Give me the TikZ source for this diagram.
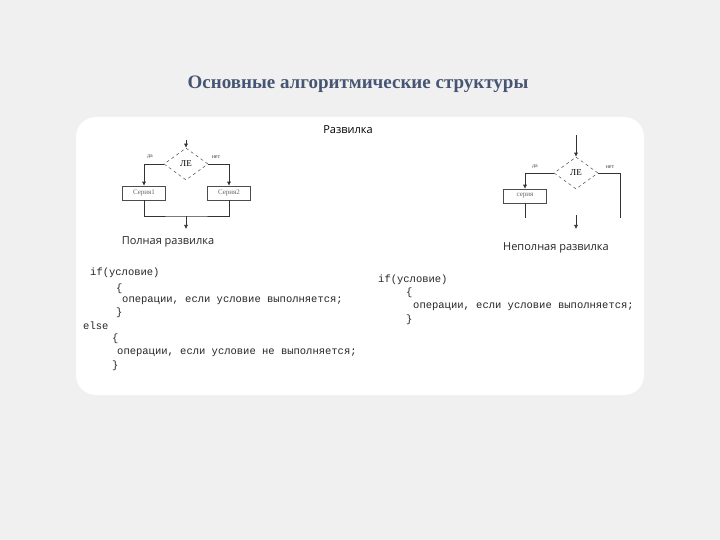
\documentclass[tikz,border=0pt]{standalone}
\usepackage{fontspec}
\setmainfont{Liberation Serif}
\setsansfont{Open Sans}
\setmonofont{Liberation Mono}
\usetikzlibrary{shapes.geometric,arrows.meta}
\begin{document}
\begin{tikzpicture}[x=1pt,y=-1pt,
  ln/.style={draw=black!80,line width=0.6pt},
  arr/.style={ln,-{Latex[length=4pt,width=4pt]}},
  dia/.style={diamond,draw=black!70,dashed,line width=0.5pt,minimum width=44pt,minimum height=32pt,inner sep=0pt,font=\fontsize{9}{9}\selectfont},
  box/.style={rectangle,draw=black!70,line width=0.5pt,minimum width=43pt,minimum height=14pt,inner sep=0pt,font=\fontsize{7}{7}\selectfont,text=black!60},
  lab/.style={font=\fontsize{6}{6}\selectfont,text=black!70},
  captxt/.style={font=\sffamily\fontsize{11}{11}\selectfont,text=black!85},
  code/.style={anchor=west,inner sep=0pt,font=\ttfamily\fontsize{10.5}{10.5}\selectfont,text=black!85}]
\fill[black!6] (0,0) rectangle (720,540);
\useasboundingbox (0,0) rectangle (720,540);
\fill[white,rounded corners=20pt] (76,117) rectangle (644,395);
\node[font=\bfseries\fontsize{19}{19}\selectfont,text={rgb,255:red,70;green,85;blue,115}] (title) at (358,84) {Основные алгоритмические структуры};
\node[font=\sffamily\fontsize{11}{11}\selectfont] (razv) at (348,130) {Развилка};
% left
\coordinate (lt) at (186,140);
\node[dia] (d1) at (186,164) {ЛЕ};
\node[box] (s1) at (144,193) {Серия1};
\node[box] (s2) at (229,193) {Серия2};
\coordinate (lb) at (186,216);
\coordinate (lo) at (186,229);
\draw[arr] (lt) -- (d1.north);
\draw[arr] (d1.west) -| (s1.north);
\draw[arr] (d1.east) -| (s2.north);
\draw[ln] (s1.south) |- (lb) -| (s2.south);
\draw[arr] (lb) -- (lo);
\node[lab] (da1) at (150,157) {да};
\node[lab] (net1) at (216,157) {нет};
\node[captxt] (c1) at (168,242) {Полная развилка};
% right
\coordinate (rt) at (576,135);
\node[dia] (d2) at (576,173) {ЛЕ};
\node[box] (s3) at (525,196) {серия};
\coordinate (rb1) at (525,218);
\coordinate (rb2) at (620,218);
\coordinate (ra) at (576,215);
\coordinate (ro) at (576,229);
\draw[arr] (rt) -- (d2.north);
\draw[arr] (d2.west) -| (s3.north);
\draw[ln] (s3.south) -- (rb1);
\draw[ln] (d2.east) -| (rb2);
\draw[arr] (ra) -- (ro);
\node[lab] (da2) at (535,167) {да};
\node[lab] (net2) at (610,167) {нет};
\node[captxt] (c2) at (556,248) {Неполная развилка};
% code left
\node[code] (a1) at (90,273) {if(условие)};
\node[code] (a2) at (116,289) {\{};
\node[code] (a3) at (122,301) {операции, если условие выполняется;};
\node[code] (a4) at (116,313) {\}};
\node[code] (a5) at (83,326) {else};
\node[code] (a6) at (112,339) {\{};
\node[code] (a7) at (117,353) {операции, если условие не выполняется;};
\node[code] (a8) at (112,366) {\}};
% code right
\node[code] (b1) at (378,280) {if(условие)};
\node[code] (b2) at (406,293) {\{};
\node[code] (b3) at (413,307) {операции, если условие выполняется;};
\node[code] (b4) at (406,320) {\}};
\end{tikzpicture}
\end{document}
